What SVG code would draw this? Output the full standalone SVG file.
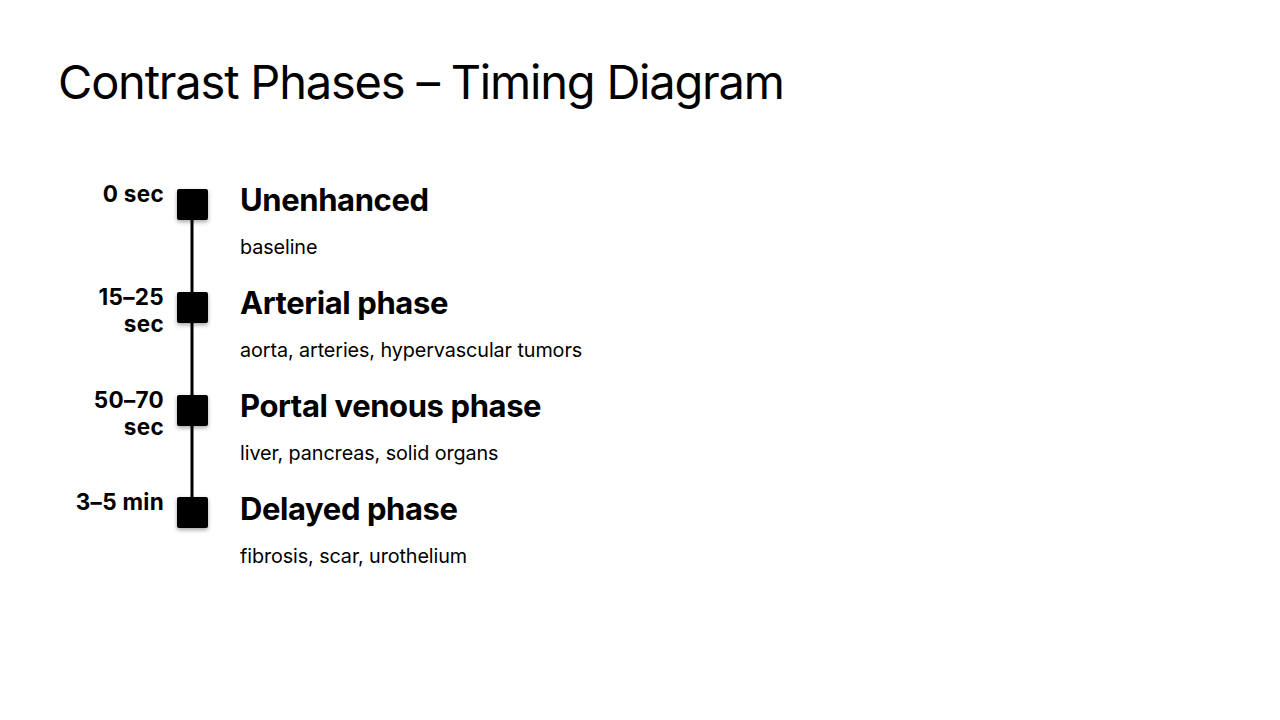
<svg xmlns="http://www.w3.org/2000/svg" width="1280" height="720" viewBox="0 0 1280 720">
<defs>
<style>
text{font-family:Inter,"Noto Sans",sans-serif;fill:#000}
.title{font-size:47px;font-weight:400;letter-spacing:-1.2px}
.time{font-size:22.5px;font-weight:700;text-anchor:end;letter-spacing:0.3px}
.head{font-size:31px;font-weight:700;letter-spacing:-0.4px}
.sub{font-size:19.8px;font-weight:400;letter-spacing:-0.1px}
.sq{fill:#000;filter:url(#sh)}
.line{stroke:#000;stroke-width:3;fill:none}
</style>
<filter id="sh" x="-30%" y="-30%" width="160%" height="160%">
<feDropShadow dx="0" dy="2" stdDeviation="2" flood-color="#000" flood-opacity="0.35"/>
</filter>
</defs>
<rect width="1280" height="720" fill="#fff"/>
<text class="title" x="58" y="99">Contrast Phases – Timing Diagram</text>
<g id="connectors">
<line class="line" x1="192" y1="205" x2="192" y2="512"/>
</g>
<g id="node-unenhanced">
<rect class="sq" x="177" y="189" width="31" height="31" rx="2"/>
<text class="time" x="164" y="202">0 sec</text>
<text class="head" x="240" y="211">Unenhanced</text>
<text class="sub" x="240" y="254">baseline</text>
</g>
<g id="node-arterial">
<rect class="sq" x="177" y="292" width="31" height="31" rx="2"/>
<text class="time" x="164" y="305">15–25</text>
<text class="time" x="164" y="332">sec</text>
<text class="head" x="240" y="314">Arterial phase</text>
<text class="sub" x="240" y="357">aorta, arteries, hypervascular tumors</text>
</g>
<g id="node-portal">
<rect class="sq" x="177" y="395" width="31" height="31" rx="2"/>
<text class="time" x="164" y="408">50–70</text>
<text class="time" x="164" y="435">sec</text>
<text class="head" x="240" y="417">Portal venous phase</text>
<text class="sub" x="240" y="460">liver, pancreas, solid organs</text>
</g>
<g id="node-delayed">
<rect class="sq" x="177" y="497" width="31" height="31" rx="2"/>
<text class="time" x="164" y="510">3–5 min</text>
<text class="head" x="240" y="520">Delayed phase</text>
<text class="sub" x="240" y="563">fibrosis, scar, urothelium</text>
</g>
</svg>
